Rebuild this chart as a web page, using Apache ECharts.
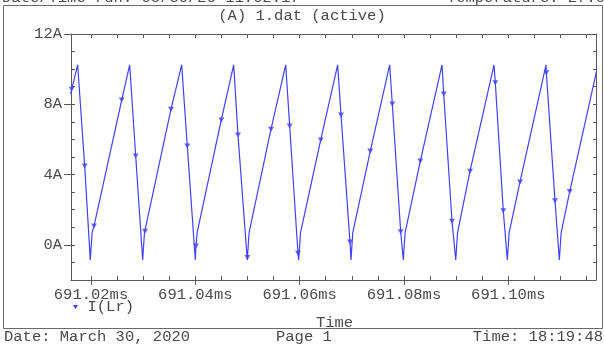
<!DOCTYPE html>
<html>
<head>
<meta charset="utf-8">
<script src="https://cdn.jsdelivr.net/npm/echarts@6/dist/echarts.min.js"></script>
<style>
  html, body { margin: 0; padding: 0; background: #ffffff; }
  #chart { width: 604px; height: 344px; }
</style>
</head>
<body>
<div id="chart"></div>
<script>
// I(Lr) waveform vertices (time in ms, current in A)
const waveTimes = [
  691.0161, 691.01745, 691.01987, 691.02022,
  691.02742, 691.02991, 691.03026,
  691.03739, 691.04000, 691.04035,
  691.04736, 691.04996, 691.05031,
  691.05733, 691.05982, 691.06017,
  691.06729, 691.06984, 691.07019,
  691.07726, 691.07987, 691.08022,
  691.08729, 691.08992, 691.09027,
  691.09726, 691.09981, 691.10016,
  691.10723, 691.10978, 691.11013,
  691.1169
];
const waveCurrents = [
  8.60, 10.24, -0.86, 0.70,
  10.24, -0.86, 0.70,
  10.24, -0.86, 0.70,
  10.24, -0.86, 0.70,
  10.24, -0.86, 0.70,
  10.24, -0.86, 0.70,
  10.24, -0.86, 0.70,
  10.24, -0.86, 0.70,
  10.24, -0.86, 0.70,
  10.24, -0.86, 0.70,
  9.86
];

// Marked sample points of the trace
const markerTimes = [
  691.01630, 691.01879, 691.02058, 691.02589, 691.02857, 691.03035,
  691.03534, 691.03846, 691.04013, 691.04498, 691.04818, 691.04999,
  691.05451, 691.05809, 691.05968, 691.06404, 691.06793, 691.06965,
  691.07354, 691.07776, 691.07937, 691.08313, 691.08762, 691.08921,
  691.09266, 691.09751, 691.09904, 691.10224, 691.10729, 691.10895,
  691.11177
];
const markerCurrents = [
  8.85, 4.49, 1.07, 8.24, 5.06, 0.78,
  7.72, 5.63, -0.06, 7.11, 6.25, -0.72,
  6.58, 6.76, -0.48, 5.97, 7.39, 0.16,
  5.34, 8.02, 0.75, 4.77, 8.59, 1.34,
  4.19, 9.23, 1.94, 3.58, 9.80, 2.51,
  3.03
];

// Axis ticks and labels
const xMajorTicks = [691.02, 691.04, 691.06, 691.08, 691.10];
const xMinorTicks = [];
for (let i = 0; i <= 19; i++) xMinorTicks.push((691020 + 5 * i) / 1000);
const yMajorTicks = [0, 4, 8, 12];

const X_MIN = 691.01617, X_MAX = 691.11681;
const Y_MIN = -2, Y_MAX = 12;

const FONT = '"Liberation Mono", "Courier New", monospace';
const TEXT = '#4a4a4a';
const FRAME = '#585858';
const TRACE = '#4040ff';

// Line passes through every vertex and every marked sample, in time order
const linePoints = waveTimes.map((t, i) => [t, waveCurrents[i]])
  .concat(markerTimes.map((t, i) => [t, markerCurrents[i]]))
  .sort((a, b) => a[0] - b[0]);
const markerPoints = markerTimes.map((t, i) => [t, markerCurrents[i]]);

function frameLine(show) {
  return { show: show, onZero: false, lineStyle: { color: FRAME, width: 1 } };
}
const xBase = { type: 'value', min: X_MIN, max: X_MAX, splitLine: { show: false } };
const yBase = { type: 'value', min: Y_MIN, max: Y_MAX, splitLine: { show: false } };

const chart = echarts.init(document.getElementById('chart'), null, { renderer: 'canvas' });
chart.setOption({
  animation: false,
  backgroundColor: '#ffffff',
  title: {
    text: '(A) 1.dat (active)',
    left: 'center', top: 8, padding: 0,
    textStyle: { fontFamily: FONT, fontSize: 15.5, fontWeight: 'normal', color: TEXT }
  },
  legend: {
    left: 73, top: 299, padding: 0,
    itemWidth: 6, itemHeight: 4,
    data: [{ name: 'I(Lr)', icon: 'path://M0,0L10,0L5,8Z' }],
    textStyle: { fontFamily: FONT, fontSize: 15.5, color: TEXT, padding: [0, 0, 0, 4] }
  },
  grid: { left: 71, top: 34, width: 525, height: 246, containLabel: false },
  xAxis: [
    Object.assign({}, xBase, {
      position: 'bottom',
      axisLine: frameLine(true),
      axisTick: { show: true, inside: true, length: 4, customValues: xMinorTicks, lineStyle: { color: FRAME } },
      axisLabel: { show: false },
      name: 'Time', nameLocation: 'middle', nameGap: 35,
      nameTextStyle: { fontFamily: FONT, fontSize: 15.5, color: TEXT, padding: [0, 0, 0, 2] }
    }),
    Object.assign({}, xBase, {
      position: 'bottom',
      axisLine: frameLine(false),
      axisTick: { show: true, inside: false, length: 5, customValues: xMajorTicks, lineStyle: { color: FRAME } },
      axisLabel: {
        show: true, customValues: xMajorTicks, margin: 7,
        fontFamily: FONT, fontSize: 15.5, color: TEXT,
        formatter: v => v.toFixed(2) + 'ms'
      }
    }),
    Object.assign({}, xBase, {
      position: 'top',
      axisLine: frameLine(true),
      axisTick: { show: true, inside: true, length: 4, customValues: xMinorTicks, lineStyle: { color: FRAME } },
      axisLabel: { show: false }
    })
  ],
  yAxis: [
    Object.assign({}, yBase, {
      position: 'left', interval: 1,
      axisLine: frameLine(true),
      axisTick: { show: true, inside: true, length: 4, lineStyle: { color: FRAME } },
      axisLabel: { show: false }
    }),
    Object.assign({}, yBase, {
      position: 'left',
      axisLine: frameLine(false),
      axisTick: { show: true, inside: false, length: 7, customValues: yMajorTicks, lineStyle: { color: FRAME } },
      axisLabel: {
        show: true, customValues: yMajorTicks, margin: 9,
        fontFamily: FONT, fontSize: 15.5, color: TEXT,
        formatter: v => v + 'A'
      }
    }),
    Object.assign({}, yBase, {
      position: 'right', interval: 1,
      axisLine: frameLine(true),
      axisTick: { show: true, inside: true, length: 3, lineStyle: { color: FRAME } },
      axisLabel: { show: false }
    })
  ],
  series: [
    {
      name: 'I(Lr)', type: 'line', xAxisIndex: 0, yAxisIndex: 0,
      data: linePoints, showSymbol: false, symbol: 'none',
      lineStyle: { color: TRACE, width: 1.2 },
      itemStyle: { color: TRACE },
      clip: true
    },
    {
      name: 'I(Lr)', type: 'scatter', xAxisIndex: 0, yAxisIndex: 0,
      data: markerPoints,
      symbol: 'triangle', symbolRotate: 180, symbolSize: [6, 5],
      itemStyle: { color: TRACE },
      z: 3
    }
  ],
  graphic: [
    {
      type: 'rect', silent: true, z: -1,
      shape: { x: 3.5, y: 5.5, width: 599, height: 323 },
      style: { fill: null, stroke: '#6a6a6a', lineWidth: 1 }
    },
    { type: 'text', x: 2, y: -2, style: { text: 'Date/Time run: 03/30/20 11:02:17', font: '15.5px ' + FONT, fill: TEXT, align: 'left', verticalAlign: 'middle' } },
    { type: 'text', x: 605, y: -2, style: { text: 'Temperature: 27.0', font: '15.5px ' + FONT, fill: TEXT, align: 'right', verticalAlign: 'middle' } },
    { type: 'text', x: 4, y: 337, style: { text: 'Date: March 30, 2020', font: '15.5px ' + FONT, fill: TEXT, align: 'left', verticalAlign: 'middle' } },
    { type: 'text', x: 276, y: 337, style: { text: 'Page 1', font: '15.5px ' + FONT, fill: TEXT, align: 'left', verticalAlign: 'middle' } },
    { type: 'text', x: 603, y: 337, style: { text: 'Time: 18:19:48', font: '15.5px ' + FONT, fill: TEXT, align: 'right', verticalAlign: 'middle' } }
  ]
});
</script>
</body>
</html>
